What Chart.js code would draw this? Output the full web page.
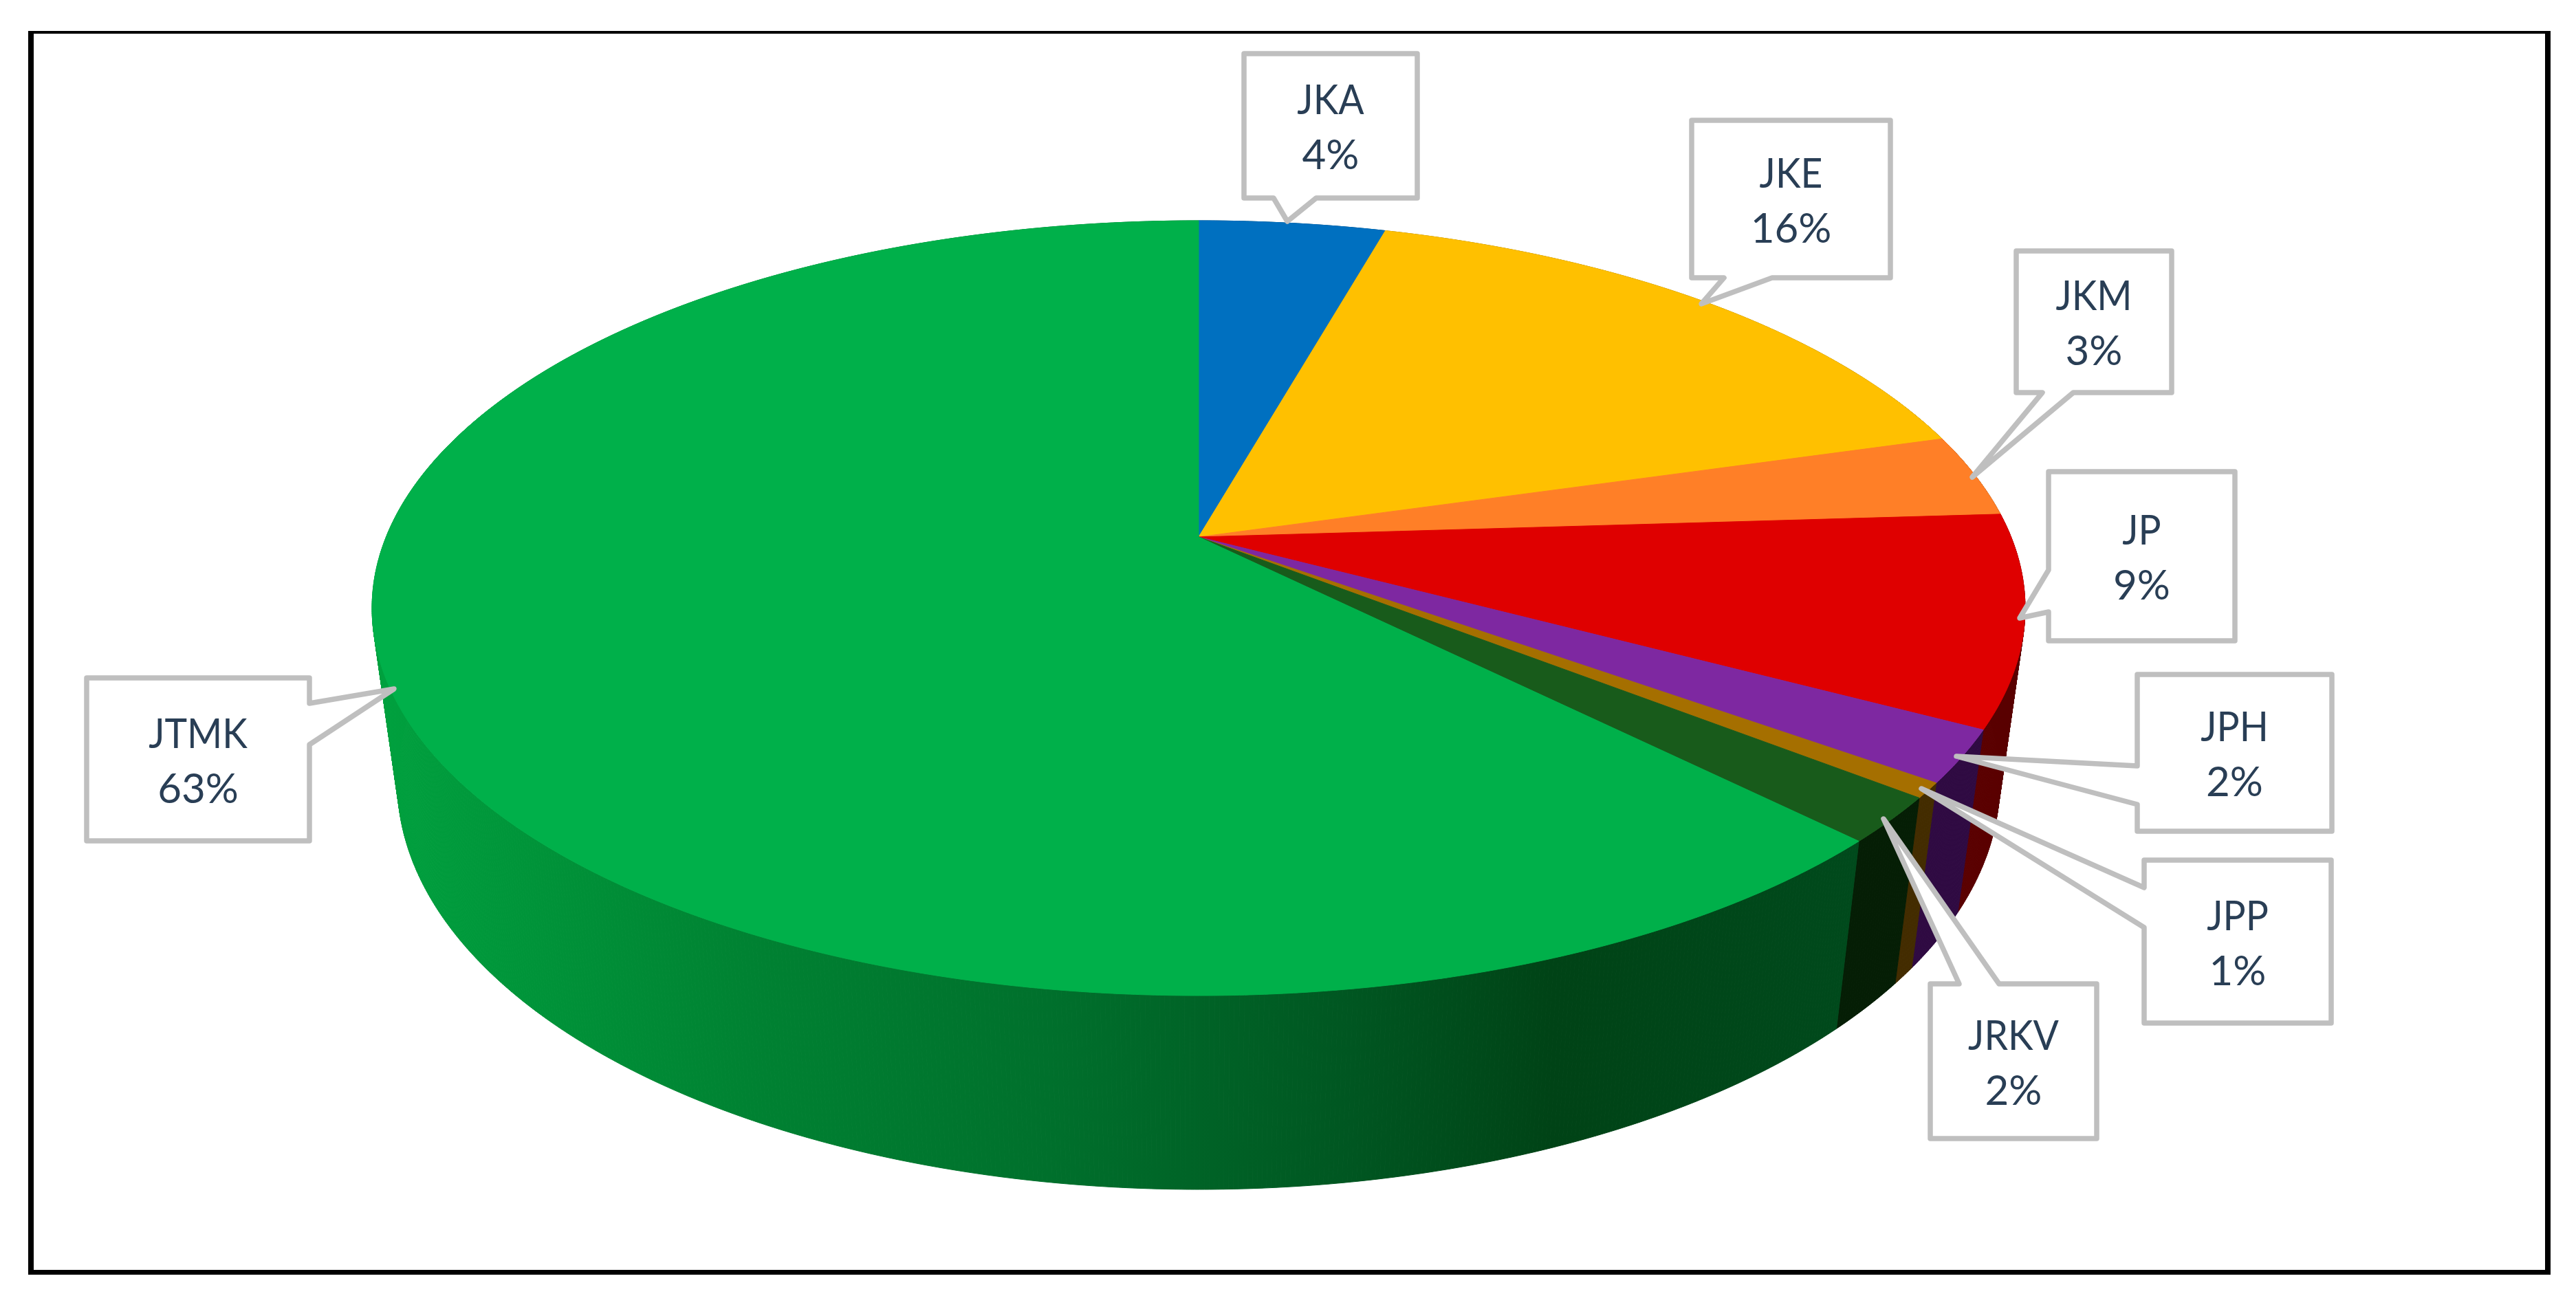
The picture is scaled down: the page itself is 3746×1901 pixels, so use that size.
<!DOCTYPE html>
<html>
<head>
<meta charset="utf-8">
<title>Pie</title>
<script src="https://cdn.jsdelivr.net/npm/chart.js@4"></script>
<style>
  html, body { margin: 0; padding: 0; background: #fff; }
  canvas { display: block; }
</style>
</head>
<body>
<canvas id="myChart" width="3746" height="1901"></canvas>
<script>
// data
const departments = ['JKA', 'JKE', 'JKM', 'JP', 'JPH', 'JPP', 'JRKV', 'JTMK'];
const shares = [4.36, 16.2, 3.46, 8.78, 2.17, 0.63, 1.9, 62.5];
const shareLabels = ['4%', '16%', '3%', '9%', '2%', '1%', '2%', '63%'];

// colours
const topColors = ['#0070C0', '#FFC000', '#FF7F27', '#DF0000', '#7E28A1', '#A56F00', '#185B1B', '#00B04A'];
const wallColors = ['#003860', '#806000', '#803F14', '#5A0000', '#2F0A42', '#432C00', '#051E05', null];
const greenWallStops = [[560, '#00A03E'], [1087, '#008232'], [1526, '#00702C'], [1966, '#005621'], [2260, '#004316'], [2704, '#004A1C']];
const calloutLine = '#BFBFBF';
const textColor = '#293E55';

// the perspective the pie is seen in
const view = { cx: 1743, cy: 781, a: 1181.5, b: 544.5, h: 259.3, p: 0.1837, q: 0.0307 };

// callout boxes: x0, y0, x1, y1, side the pointer leaves from, pointer base, tip
const callouts = [
  { box: [1809, 78, 2061, 288], side: 'bottom', base: [1852, 1914], tip: [1872, 322] },
  { box: [2460, 175, 2749, 404], side: 'bottom', base: [2507, 2577], tip: [2474, 442] },
  { box: [2932, 365, 3158, 571], side: 'bottom', base: [2970, 3015], tip: [2868, 694] },
  { box: [2979, 686, 3250, 932], side: 'left', base: [829, 890], tip: [2937, 899] },
  { box: [3108, 981, 3391, 1209], side: 'left', base: [1114, 1170], tip: [2845, 1100] },
  { box: [3118, 1251, 3390, 1488], side: 'left', base: [1291, 1349], tip: [2794, 1147] },
  { box: [2807, 1431, 3049, 1656], side: 'top', base: [2849, 2907], tip: [2739, 1191] },
  { box: [126, 986, 450, 1223], side: 'right', base: [1023, 1083], tip: [573, 1002] }
];

function project(angle, z) {
  const u = Math.cos(angle);
  const v = Math.sin(angle);
  const w = 1 - view.p * v + view.q * z;
  return [view.cx + view.a * u / w, view.cy + (view.b * v + view.h * z) / w];
}

function arcAngles(start, end) {
  const list = [];
  const steps = Math.max(2, Math.ceil((end - start) / 0.005));
  for (let i = 0; i <= steps; i++) {
    list.push(start + (end - start) * i / steps);
  }
  return list;
}

function fillPolygon(ctx, pts, fill) {
  ctx.beginPath();
  pts.forEach((pt, i) => i ? ctx.lineTo(pt[0], pt[1]) : ctx.moveTo(pt[0], pt[1]));
  ctx.closePath();
  ctx.fillStyle = fill;
  ctx.strokeStyle = fill;
  ctx.lineWidth = 1;
  ctx.fill();
  ctx.stroke();
}

function drawCallout(ctx, c, name, share) {
  const [x0, y0, x1, y1] = c.box;
  ctx.beginPath();
  ctx.moveTo(x0, y0);
  if (c.side === 'top') {
    ctx.lineTo(c.base[0], y0);
    ctx.lineTo(c.tip[0], c.tip[1]);
    ctx.lineTo(c.base[1], y0);
  }
  ctx.lineTo(x1, y0);
  if (c.side === 'right') {
    ctx.lineTo(x1, c.base[0]);
    ctx.lineTo(c.tip[0], c.tip[1]);
    ctx.lineTo(x1, c.base[1]);
  }
  ctx.lineTo(x1, y1);
  if (c.side === 'bottom') {
    ctx.lineTo(c.base[1], y1);
    ctx.lineTo(c.tip[0], c.tip[1]);
    ctx.lineTo(c.base[0], y1);
  }
  ctx.lineTo(x0, y1);
  if (c.side === 'left') {
    ctx.lineTo(x0, c.base[1]);
    ctx.lineTo(c.tip[0], c.tip[1]);
    ctx.lineTo(x0, c.base[0]);
  }
  ctx.closePath();
  ctx.fillStyle = '#fff';
  ctx.fill();
  ctx.strokeStyle = calloutLine;
  ctx.lineWidth = 7.5;
  ctx.lineJoin = 'round';
  ctx.stroke();

  const midX = (x0 + x1) / 2;
  const midY = (y0 + y1) / 2;
  ctx.fillStyle = textColor;
  ctx.font = '60px Lato';
  ctx.textAlign = 'center';
  ctx.textBaseline = 'alphabetic';
  // the capitals run a bit narrower in the original than in Lato
  ctx.save();
  ctx.translate(midX, midY - 40 + 23);
  ctx.scale(0.92, 1);
  ctx.fillText(name, 0, 0);
  ctx.restore();
  ctx.fillText(share, midX, midY + 40 + 23);
}

// draws the arcs chart.js worked out as a tilted 3d pie
const pie3d = {
  id: 'pie3d',
  beforeDraw(chart) {
    const ctx = chart.ctx;
    ctx.fillStyle = '#fff';
    ctx.fillRect(0, 0, chart.width, chart.height);
    ctx.fillStyle = '#000';
    ctx.fillRect(41, 45, 3668, 1809);
    ctx.fillStyle = '#fff';
    ctx.fillRect(49, 49, 3652, 1798);
  },
  beforeDatasetsDraw(chart) {
    const ctx = chart.ctx;
    const arcs = chart.getDatasetMeta(0).data;
    const first = greenWallStops[0][0];
    const last = greenWallStops[greenWallStops.length - 1][0];
    const green = ctx.createLinearGradient(first, 0, last, 0);
    greenWallStops.forEach(s => green.addColorStop((s[0] - first) / (last - first), s[1]));

    // walls go strip by strip, one polygon would cancel itself out at the sides
    arcs.forEach((arc, i) => {
      const angles = arcAngles(arc.startAngle, arc.endAngle);
      for (let k = 0; k < angles.length - 1; k++) {
        fillPolygon(ctx, [project(angles[k], 0), project(angles[k + 1], 0), project(angles[k + 1], 1), project(angles[k], 1)], wallColors[i] || green);
      }
    });
    arcs.forEach((arc, i) => {
      const rim = arcAngles(arc.startAngle, arc.endAngle).map(a => project(a, 0));
      fillPolygon(ctx, [[view.cx, view.cy]].concat(rim), topColors[i]);
    });
    return false;
  },
  afterDraw(chart) {
    callouts.forEach((c, i) => drawCallout(chart.ctx, c, departments[i], shareLabels[i]));
  }
};

const chart = new Chart(document.getElementById('myChart').getContext('2d'), {
  type: 'pie',
  plugins: [pie3d],
  data: {
    labels: departments,
    datasets: [{ data: shares, backgroundColor: topColors, borderWidth: 0 }]
  },
  options: {
    responsive: false,
    animation: false,
    plugins: { legend: { display: false }, tooltip: { enabled: false } }
  }
});
</script>
</body>
</html>
